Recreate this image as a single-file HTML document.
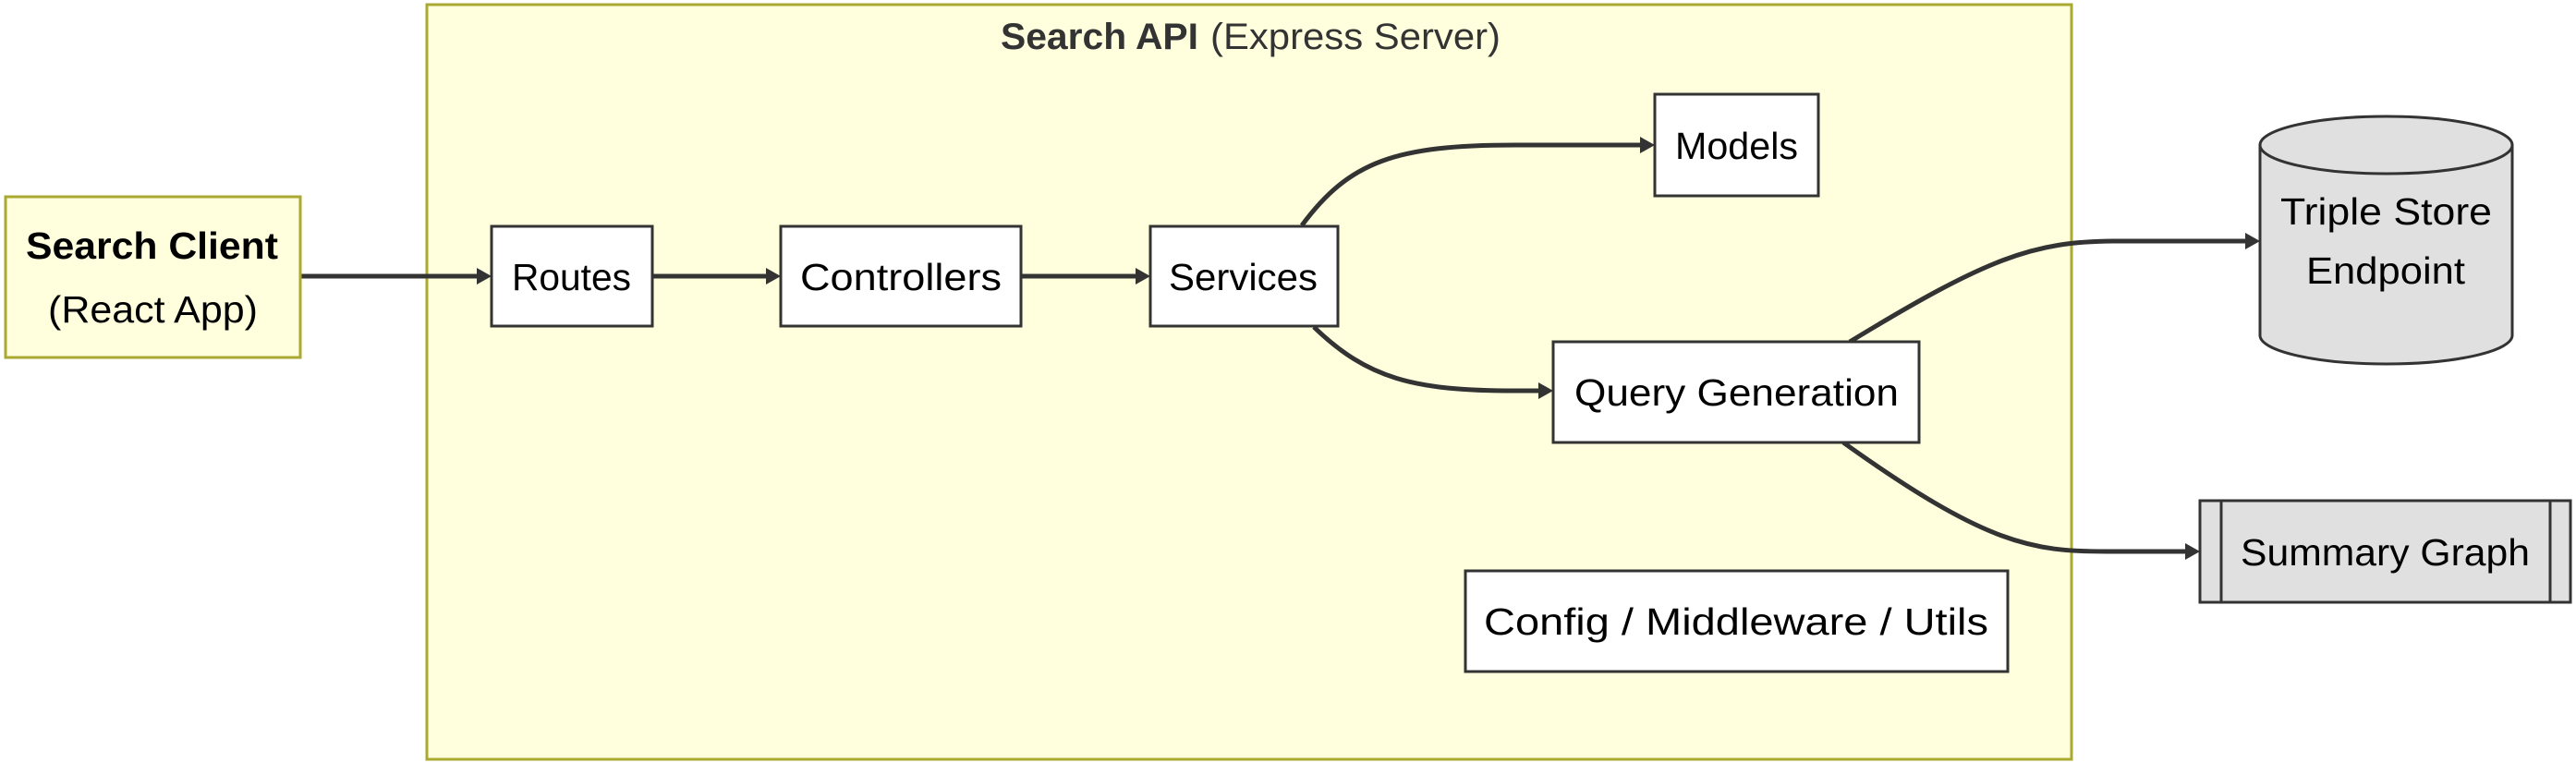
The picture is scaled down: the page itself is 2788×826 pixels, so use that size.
<!DOCTYPE html>
<html><head><meta charset="utf-8"><style>
html,body{margin:0;padding:0;background:#fff;}
svg{display:block;}
text{font-family:"Liberation Sans",sans-serif;font-size:41px;fill:#000;}
</style></head><body>
<svg width="2788" height="826" viewBox="0 0 2788 826" xmlns="http://www.w3.org/2000/svg">
<!-- cluster -->
<rect x="462" y="5" width="1780" height="817" fill="#ffffde" stroke="#aaaa33" stroke-width="3"/>
<text x="1083" y="53" textLength="214" lengthAdjust="spacingAndGlyphs" style="font-weight:bold;fill:#333;font-size:40px">Search API</text>
<text x="1310" y="53" textLength="314" lengthAdjust="spacingAndGlyphs" style="fill:#333;font-size:40px">(Express Server)</text>

<!-- edges -->
<g fill="none" stroke="#333" stroke-width="5">
<path d="M325 299 L522 299"/>
<path d="M706 299 L835 299"/>
<path d="M1105 299 L1235 299"/>
<path d="M1409 244 C1460 175 1510 157 1640 157 L1781 157"/>
<path d="M1422 354 C1480 410 1530 423 1640 423 L1671 423"/>
<path d="M2002 370 C2150 280 2200 261 2290 261 L2436 261"/>
<path d="M1995 479 C2150 590 2200 597 2280 597 L2371 597"/>
</g>
<g fill="#333">
<polygon points="532,299 516,290 516,308"/>
<polygon points="845,299 829,290 829,308"/>
<polygon points="1245,299 1229,290 1229,308"/>
<polygon points="1791,157 1775,148 1775,166"/>
<polygon points="1681,423 1665,414 1665,432"/>
<polygon points="2446,261 2430,252 2430,270"/>
<polygon points="2381,597 2365,588 2365,606"/>
</g>

<!-- Search Client -->
<rect x="6" y="213" width="319" height="174" fill="#ffffde" stroke="#aaaa33" stroke-width="3"/>
<text x="28" y="280" textLength="273" lengthAdjust="spacingAndGlyphs" style="font-weight:bold">Search Client</text>
<text x="52" y="349" textLength="227" lengthAdjust="spacingAndGlyphs">(React App)</text>

<g fill="#fff" stroke="#333" stroke-width="3">
<rect x="532" y="245" width="174" height="108"/>
<rect x="845" y="245" width="260" height="108"/>
<rect x="1245" y="245" width="203" height="108"/>
<rect x="1791" y="102" width="177" height="110"/>
<rect x="1681" y="370" width="396" height="109"/>
<rect x="1586" y="618" width="587" height="109"/>
</g>
<text x="554" y="314" textLength="129" lengthAdjust="spacingAndGlyphs">Routes</text>
<text x="866" y="314" textLength="218" lengthAdjust="spacingAndGlyphs">Controllers</text>
<text x="1265" y="314" textLength="161" lengthAdjust="spacingAndGlyphs">Services</text>
<text x="1813" y="172" textLength="133" lengthAdjust="spacingAndGlyphs">Models</text>
<text x="1704" y="439" textLength="351" lengthAdjust="spacingAndGlyphs">Query Generation</text>
<text x="1606" y="687" textLength="546" lengthAdjust="spacingAndGlyphs">Config / Middleware / Utils</text>

<!-- Cylinder -->
<path d="M2446 157 A136.5 31 0 0 1 2719 157 L2719 363 A136.5 31 0 0 1 2446 363 Z" fill="#e0e0e0" stroke="#333" stroke-width="3"/>
<path d="M2446 157 A136.5 31 0 0 0 2719 157" fill="none" stroke="#333" stroke-width="3"/>
<text x="2468" y="243" textLength="229" lengthAdjust="spacingAndGlyphs">Triple Store</text>
<text x="2496" y="307" textLength="172" lengthAdjust="spacingAndGlyphs">Endpoint</text>

<!-- Summary Graph -->
<rect x="2381" y="542" width="401" height="110" fill="#e0e0e0" stroke="#333" stroke-width="3"/>
<line x1="2404" y1="542" x2="2404" y2="652" stroke="#333" stroke-width="3"/>
<line x1="2760" y1="542" x2="2760" y2="652" stroke="#333" stroke-width="3"/>
<text x="2425" y="612" textLength="313" lengthAdjust="spacingAndGlyphs">Summary Graph</text>
</svg>
</body></html>
